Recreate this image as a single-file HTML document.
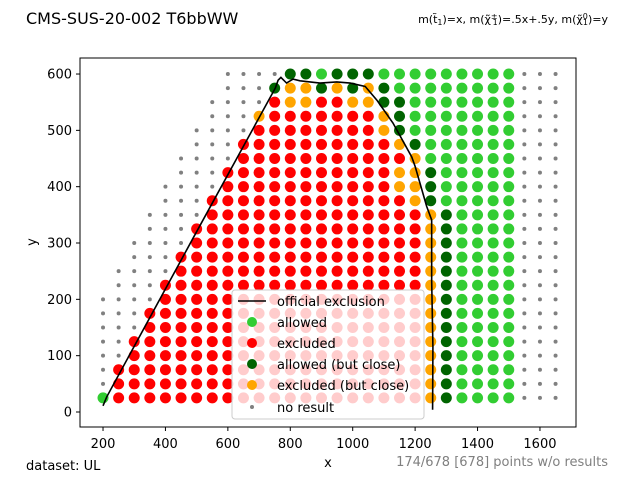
<!DOCTYPE html>
<html><head><meta charset="utf-8"><style>
body{margin:0;background:#fff;}
svg{display:block;font-family:"DejaVu Sans","Liberation Sans",sans-serif;}
</style></head><body>
<svg id="chart" width="640" height="480" viewBox="0 0 640 480" xmlns="http://www.w3.org/2000/svg">
<rect width="640" height="480" fill="#fff"/>
<text x="26" y="24" font-size="16" fill="#000">CMS-SUS-20-002 T6bbWW</text>
<text x="608" y="23" font-size="11" text-anchor="end" fill="#000">m(t̃<tspan font-size="8" dy="2">1</tspan><tspan dy="-2">)=x, m(χ̃</tspan><tspan font-size="8" dy="-4">±</tspan><tspan font-size="8" dx="-5" dy="6">1</tspan><tspan dy="-2">)=.5x+.5y, m(χ̃</tspan><tspan font-size="8" dy="-4">0</tspan><tspan font-size="8" dx="-5" dy="6">1</tspan><tspan dy="-2">)=y</tspan></text>
<g id="points"></g>
<polyline id="excl" fill="none" stroke="#000" stroke-width="1.6"/>
<rect x="80" y="58" width="496" height="369" fill="none" stroke="#000" stroke-width="1"/>
<g id="ticks"></g>
<text x="328" y="467" font-size="13" text-anchor="middle">x</text>
<text x="36" y="242" font-size="13" text-anchor="middle" transform="rotate(-90 36 242)">y</text>
<text x="26" y="470" font-size="13">dataset: UL</text>
<text x="608" y="466" font-size="13" text-anchor="end" fill="#808080">174/678 [678] points w/o results</text>
<g>
<rect x="232" y="290" width="192" height="129" rx="3" fill="#fff" fill-opacity="0.8" stroke="#ccc" stroke-width="1"/>
<line x1="238" y1="301" x2="266" y2="301" stroke="#000" stroke-width="1.6"/>
<text x="277" y="306" font-size="13">official exclusion</text>
<circle cx="252" cy="322" r="5" fill="#32cd32"/>
<text x="277" y="327" font-size="13">allowed</text>
<circle cx="252" cy="343" r="5" fill="#ff0000"/>
<text x="277" y="348" font-size="13">excluded</text>
<circle cx="252" cy="364" r="5" fill="#006400"/>
<text x="277" y="369" font-size="13">allowed (but close)</text>
<circle cx="252" cy="385" r="5" fill="#ffa500"/>
<text x="277" y="390" font-size="13">excluded (but close)</text>
<circle cx="252" cy="407" r="2" fill="#808080"/>
<text x="277" y="412" font-size="13">no result</text>
</g>
</svg>
<script>
const xStart = 200, xStep = 50;
const yValues = [600,575,550,525,500,475,450,425,400,375,350,325,300,275,250,225,200,175,150,125,100,75,50,25];
const gridRows = [
"........nnnnddgdddgggggggggnnn",
"........nnndoodododggggggggnnn",
".......nnnnroorrooddgggggggnnn",
".......nnnorrrrrrrodgggggggnnn",
"......nnnnrrrrrrrrodgggggggnnn",
"......nnnrrrrrrrrrrodggggggnnn",
".....nnnnrrrrrrrrrrroggggggnnn",
".....nnnrrrrrrrrrrroodgggggnnn",
"....nnnnrrrrrrrrrrroodgggggnnn",
"....nnnrrrrrrrrrrrrrodgggggnnn",
"...nnnnrrrrrrrrrrrrrrodggggnnn",
"...nnnrrrrrrrrrrrrrrrodggggnnn",
"..nnnnrrrrrrrrrrrrrrrodggggnnn",
"..nnnrrrrrrrrrrrrrrrrodggggnnn",
".nnnnrrrrrrrrrrrrrrrrodggggnnn",
".nnnrrrrrrrrrrrrrrrrrodggggnnn",
"nnnnrrrrrrrrrrrrrrrrrodggggnnn",
"nnnrrrrrrrrrrrrrrrrrrodggggnnn",
"nnnrrrrrrrrrrrrrrrrrrodggggnnn",
"nnrrrrrrrrrrrrrrrrrrrodggggnnn",
"nnrrrrrrrrrrrrrrrrrrrodggggnnn",
"nrrrrrrrrrrrrrrrrrrrrodggggnnn",
"nrrrrrrrrrrrrrrrrrrrrodggggnnn",
"grrrrrrrrrrrrrrrrrrrrodggggnnn"
];
const lineX = [200,212,485,752,761,770,788,809,831,895,949,992,1040,1049,1077,1129,1189,1200,1237,1253,1253,1257,1256];
const lineY = [11,27,305,575,589,594,584,591,588,584,586,584,578,572,554,513,453,436,365,341,234,116,4];
const xTicks = [200,400,600,800,1000,1200,1400,1600];
const yTicks = [0,100,200,300,400,500,600];

const sx = v => 40.6 + 0.3121*v;
const sy = v => 412 - 0.5633*v;
const NS = "http://www.w3.org/2000/svg";
const colors = {r:"#ff0000", o:"#ffa500", d:"#006400", g:"#32cd32", n:"#808080"};
const names = {r:"excluded-point", o:"excluded-close-point", d:"allowed-close-point", g:"allowed-point", n:"no-result-point"};
const pg = document.getElementById("points");
gridRows.forEach((row, ri) => {
  for (let i = 0; i < row.length && i < 30; i++) {
    const c = row[i];
    if (!colors[c]) continue;
    const el = document.createElementNS(NS, "circle");
    el.setAttribute("cx", sx(xStart + i*xStep));
    el.setAttribute("cy", sy(yValues[ri]));
    el.setAttribute("r", c === "n" ? 2 : 5.5);
    el.setAttribute("fill", colors[c]);
    
    
    pg.appendChild(el);
  }
});
document.getElementById("excl").setAttribute("points", lineX.map((x,i)=>sx(x)+","+sy(lineY[i])).join(" "));
const tg = document.getElementById("ticks");
xTicks.forEach(t => {
  const l = document.createElementNS(NS, "line");
  l.setAttribute("x1", sx(t)); l.setAttribute("x2", sx(t));
  l.setAttribute("y1", 427); l.setAttribute("y2", 431);
  l.setAttribute("stroke", "#000");
  
  
  tg.appendChild(l);
  const tx = document.createElementNS(NS, "text");
  tx.setAttribute("x", sx(t)); tx.setAttribute("y", 448);
  tx.setAttribute("font-size", "13"); tx.setAttribute("text-anchor", "middle");
  tx.textContent = t;
  
  
  tg.appendChild(tx);
});
yTicks.forEach(t => {
  const l = document.createElementNS(NS, "line");
  l.setAttribute("x1", 76); l.setAttribute("x2", 80);
  l.setAttribute("y1", sy(t)); l.setAttribute("y2", sy(t));
  l.setAttribute("stroke", "#000");
  
  
  tg.appendChild(l);
  const tx = document.createElementNS(NS, "text");
  tx.setAttribute("x", 72); tx.setAttribute("y", sy(t) + 4.5);
  tx.setAttribute("font-size", "13"); tx.setAttribute("text-anchor", "end");
  tx.textContent = t;
  
  
  tg.appendChild(tx);
});
</script>
</body></html>
